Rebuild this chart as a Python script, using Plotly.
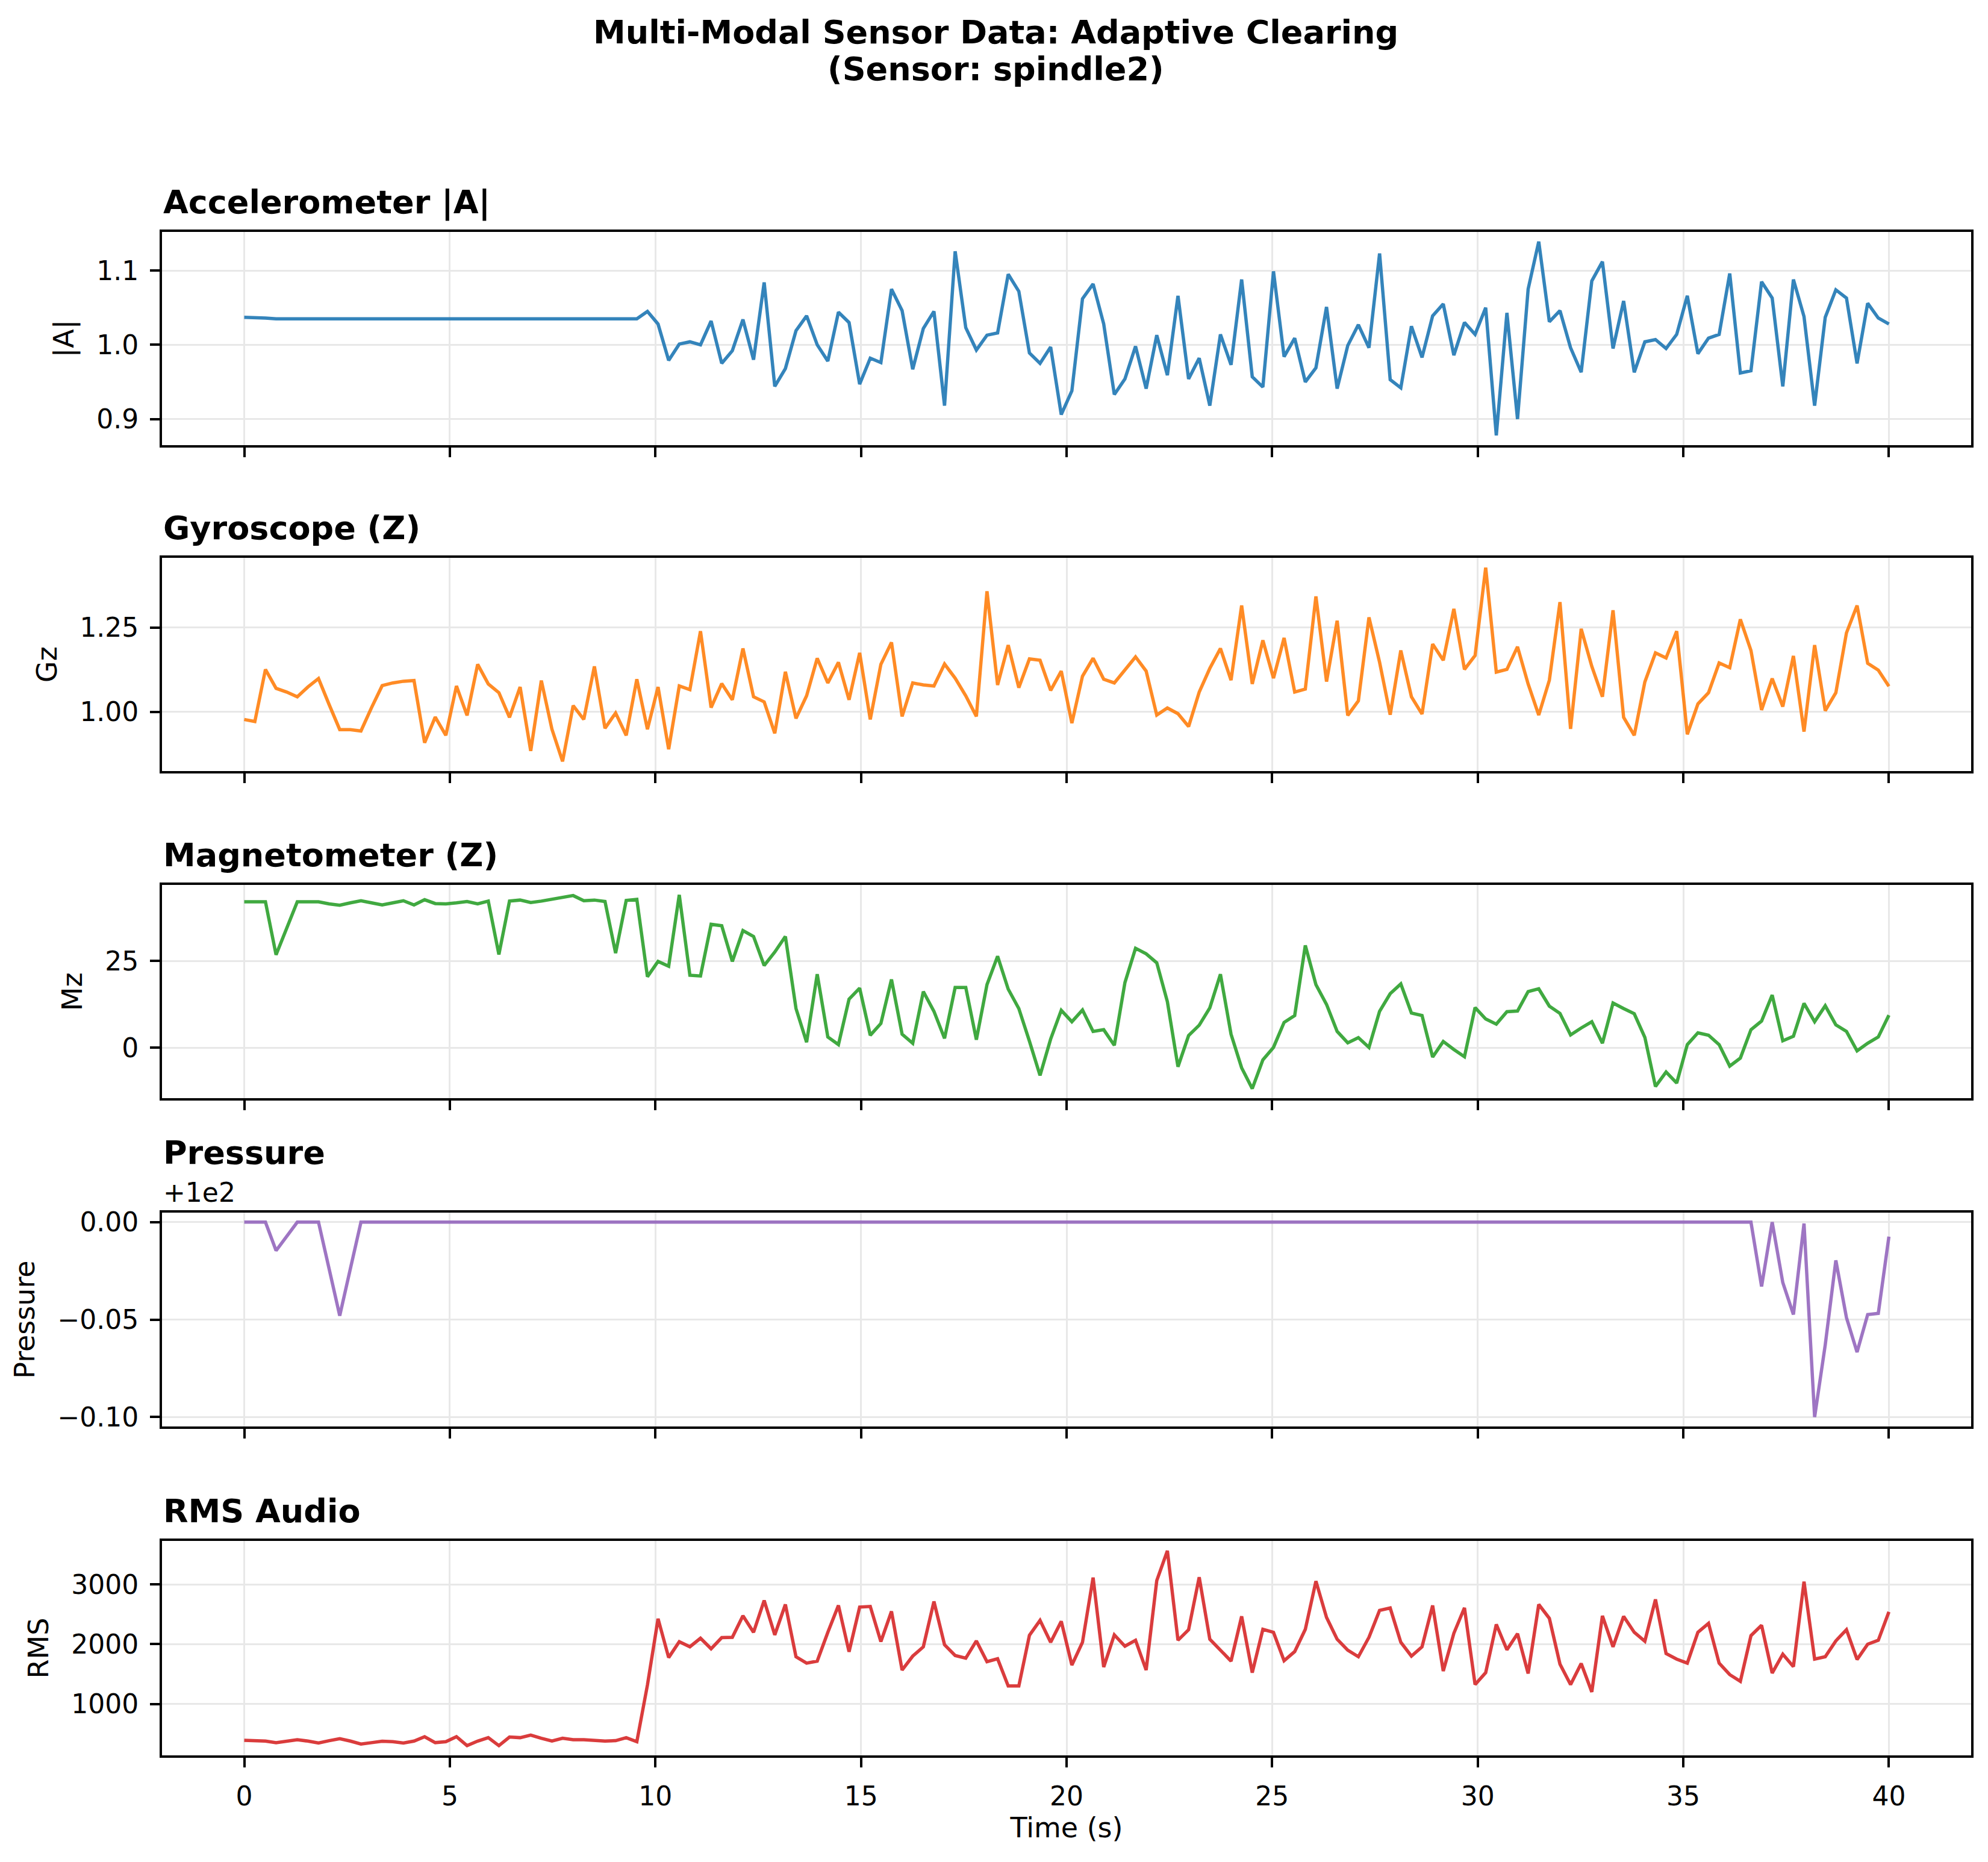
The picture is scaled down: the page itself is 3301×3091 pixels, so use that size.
import numpy as np
import plotly.graph_objects as go
from plotly.subplots import make_subplots

################################################################################
# Sensor readings (spindle2), 156 samples over 40 s
################################################################################

time_s = np.linspace(0, 40, 156)

accel_mag = [
    1.037, 1.037, 1.036, 1.035, 1.035, 1.036, 1.036, 1.036, 1.035, 1.035,
    1.035, 1.035, 1.035, 1.036, 1.036, 1.036, 1.036, 1.035, 1.036, 1.036,
    1.036, 1.036, 1.035, 1.036, 1.036, 1.035, 1.036, 1.036, 1.035, 1.036,
    1.036, 1.036, 1.035, 1.036, 1.036, 1.035, 1.035, 1.035, 1.045, 1.028,
    0.979, 1.001, 1.004, 1.000, 1.032, 0.975, 0.992, 1.034, 0.980, 1.084,
    0.944, 0.968, 1.019, 1.039, 1.000, 0.978, 1.044, 1.030, 0.947, 0.982,
    0.976, 1.075, 1.046, 0.967, 1.022, 1.045, 0.918, 1.126, 1.023, 0.993,
    1.013, 1.016, 1.095, 1.072, 0.989, 0.975, 0.997, 0.906, 0.938, 1.062,
    1.082, 1.028, 0.933, 0.954, 0.998, 0.941, 1.013, 0.959, 1.066, 0.954,
    0.982, 0.918, 1.014, 0.973, 1.088, 0.957, 0.943, 1.099, 0.984, 1.009,
    0.950, 0.969, 1.051, 0.941, 0.999, 1.027, 0.996, 1.123, 0.953, 0.942,
    1.025, 0.983, 1.039, 1.055, 0.986, 1.030, 1.014, 1.050, 0.878, 1.043,
    0.900, 1.075, 1.139, 1.031, 1.046, 0.996, 0.963, 1.086, 1.112, 0.995,
    1.059, 0.963, 1.004, 1.007, 0.995, 1.014, 1.066, 0.988, 1.009, 1.014,
    1.096, 0.962, 0.965, 1.085, 1.063, 0.944, 1.088, 1.038, 0.918, 1.037,
    1.074, 1.063, 0.975, 1.056, 1.036, 1.028,
]

gyro_z = [
    0.978, 0.972, 1.126, 1.070, 1.059, 1.045, 1.074, 1.099, 1.022, 0.948,
    0.948, 0.944, 1.013, 1.078, 1.086, 1.091, 1.093, 0.909, 0.985, 0.931,
    1.077, 0.990, 1.141, 1.083, 1.057, 0.984, 1.074, 0.885, 1.093, 0.949,
    0.854, 1.019, 0.978, 1.135, 0.952, 0.997, 0.931, 1.097, 0.949, 1.074,
    0.890, 1.077, 1.066, 1.239, 1.013, 1.084, 1.036, 1.188, 1.045, 1.030,
    0.937, 1.119, 0.981, 1.048, 1.159, 1.086, 1.147, 1.036, 1.175, 0.978,
    1.141, 1.206, 0.987, 1.086, 1.080, 1.077, 1.142, 1.100, 1.048, 0.987,
    1.357, 1.080, 1.198, 1.072, 1.157, 1.153, 1.064, 1.121, 0.967, 1.106,
    1.159, 1.097, 1.086, 1.124, 1.163, 1.121, 0.991, 1.012, 0.995, 0.957,
    1.059, 1.129, 1.188, 1.094, 1.315, 1.083, 1.212, 1.100, 1.219, 1.059,
    1.068, 1.342, 1.090, 1.270, 0.990, 1.033, 1.280, 1.147, 0.992, 1.182,
    1.045, 0.994, 1.201, 1.153, 1.305, 1.126, 1.167, 1.427, 1.118, 1.126,
    1.193, 1.083, 0.991, 1.094, 1.325, 0.950, 1.246, 1.135, 1.045, 1.301,
    0.984, 0.931, 1.089, 1.175, 1.160, 1.239, 0.934, 1.024, 1.057, 1.145,
    1.131, 1.274, 1.182, 1.006, 1.099, 1.016, 1.166, 0.942, 1.198, 1.004,
    1.057, 1.234, 1.315, 1.144, 1.124, 1.076,
]

mag_z = [
    42.1, 42.1, 42.1, 26.8, 34.5, 42.1, 42.1, 42.1, 41.5, 41.1,
    41.8, 42.4, 41.8, 41.2, 41.8, 42.4, 41.2, 42.7, 41.6, 41.5,
    41.8, 42.2, 41.5, 42.3, 26.9, 42.3, 42.6, 41.9, 42.3, 42.8,
    43.2, 43.9, 42.4, 42.6, 42.2, 27.3, 42.5, 42.8, 20.5, 24.9,
    23.5, 44.1, 20.9, 20.7, 35.6, 35.2, 24.9, 33.8, 32.1, 23.7,
    27.6, 32.1, 11.3, 1.6, 21.2, 3.1, 0.9, 14.0, 17.2, 3.6,
    7.0, 19.7, 3.9, 1.3, 16.2, 10.5, 2.7, 17.4, 17.4, 2.3,
    18.2, 26.4, 16.9, 11.3, 1.9, -8.0, 2.5, 10.8, 7.5, 10.9,
    4.7, 5.2, 0.7, 18.8, 28.7, 27.1, 24.5, 13.3, -5.5, 3.5,
    6.5, 11.5, 21.2, 3.9, -5.8, -11.8, -3.5, 0.1, 7.3, 9.3,
    29.5, 18.2, 12.5, 4.7, 1.4, 2.9, 0.1, 10.5, 15.6, 18.4,
    10.0, 9.3, -2.7, 1.8, -0.5, -2.6, 11.6, 8.3, 6.8, 10.4,
    10.6, 16.2, 17.0, 12.0, 9.9, 3.7, 5.7, 7.5, 1.3, 12.9,
    11.3, 9.8, 3.0, -11.2, -7.0, -10.2, 0.9, 4.3, 3.6, 0.9,
    -5.3, -3.0, 5.2, 7.7, 15.2, 2.0, 3.3, 12.8, 7.5, 12.1,
    6.6, 4.7, -0.9, 1.3, 3.1, 9.4,
]

pressure = [
    100.0, 100.0, 100.0, 99.9854, 99.9926, 100.0, 100.0, 100.0, 99.976, 99.952,
    99.976, 100.0, 100.0, 100.0, 100.0, 100.0, 100.0, 100.0, 100.0, 100.0,
    100.0, 100.0, 100.0, 100.0, 100.0, 100.0, 100.0, 100.0, 100.0, 100.0,
    100.0, 100.0, 100.0, 100.0, 100.0, 100.0, 100.0, 100.0, 100.0, 100.0,
    100.0, 100.0, 100.0, 100.0, 100.0, 100.0, 100.0, 100.0, 100.0, 100.0,
    100.0, 100.0, 100.0, 100.0, 100.0, 100.0, 100.0, 100.0, 100.0, 100.0,
    100.0, 100.0, 100.0, 100.0, 100.0, 100.0, 100.0, 100.0, 100.0, 100.0,
    100.0, 100.0, 100.0, 100.0, 100.0, 100.0, 100.0, 100.0, 100.0, 100.0,
    100.0, 100.0, 100.0, 100.0, 100.0, 100.0, 100.0, 100.0, 100.0, 100.0,
    100.0, 100.0, 100.0, 100.0, 100.0, 100.0, 100.0, 100.0, 100.0, 100.0,
    100.0, 100.0, 100.0, 100.0, 100.0, 100.0, 100.0, 100.0, 100.0, 100.0,
    100.0, 100.0, 100.0, 100.0, 100.0, 100.0, 100.0, 100.0, 100.0, 100.0,
    100.0, 100.0, 100.0, 100.0, 100.0, 100.0, 100.0, 100.0, 100.0, 100.0,
    100.0, 100.0, 100.0, 100.0, 100.0, 100.0, 100.0, 100.0, 100.0, 100.0,
    100.0, 100.0, 100.0, 99.967, 100.0, 99.969, 99.9526, 99.9993, 99.900, 99.937,
    99.9804, 99.951, 99.9333, 99.9526, 99.9532, 99.9926,
]

rms_audio = [
    395, 395, 382, 356, 382, 405, 382, 349, 389, 422,
    382, 332, 356, 379, 372, 349, 382, 455, 356, 372,
    455, 306, 382, 439, 306, 449, 439, 482, 429, 382,
    429, 405, 405, 389, 382, 389, 439, 372, 1319, 2425,
    1777, 2043, 1957, 2100, 1924, 2110, 2116, 2475, 2199, 2731,
    2156, 2664, 1791, 1684, 1718, 2199, 2648, 1874, 2621, 2631,
    2043, 2548, 1568, 1801, 1957, 2714, 1990, 1811, 1767, 2056,
    1708, 1757, 1302, 1302, 2149, 2399, 2033, 2382, 1651, 2033,
    3113, 1618, 2156, 1967, 2066, 1568, 3063, 3561, 2066, 2243,
    3120, 2083, 1900, 1718, 2465, 1525, 2249, 2199, 1724, 1877,
    2249, 3053, 2448, 2083, 1900, 1791, 2116, 2565, 2605, 2033,
    1801, 1957, 2648, 1552, 2183, 2608, 1326, 1525, 2332, 1907,
    2176, 1512, 2664, 2432, 1668, 1326, 1678, 1203, 2475, 1957,
    2465, 2199, 2050, 2748, 1844, 1751, 1684, 2199, 2349, 1684,
    1492, 1379, 2143, 2316, 1518, 1834, 1625, 3046, 1751, 1791,
    2056, 2243, 1744, 2000, 2066, 2541,
]

pressure_offset = 100.0

################################################################################
# Build figure
################################################################################

font_family = 'DejaVu Sans'

# title, y label, values, colour, tick step, tick format
panels = [
    ('Accelerometer |A|', '|A|', np.array(accel_mag), '#1f77b4', 0.1, '.1f'),
    ('Gyroscope (Z)', 'Gz', np.array(gyro_z), '#ff7f0e', 0.25, '.2f'),
    ('Magnetometer (Z)', 'Mz', np.array(mag_z), '#2ca02c', 25, 'd'),
    ('Pressure', 'Pressure', np.array(pressure) - pressure_offset, '#9467bd', 0.05, '.2f'),
    ('RMS Audio', 'RMS', np.array(rms_audio), '#d62728', 1000, 'd'),
]

# panel domains (top panel first)
domains = [[0.8601, 1.0], [0.6461, 0.786], [0.4313, 0.5712], [0.2157, 0.3564], [0.0, 0.1407]]

fig = make_subplots(rows=5, cols=1, shared_xaxes=True)

for i, (title, ylab, vals, color, dtick, fmt) in enumerate(panels):
    row = i + 1
    fig.add_trace(go.Scatter(x=time_s, y=vals, mode='lines',
                             line=dict(color=color, width=5.5),
                             opacity=0.9, showlegend=False),
                  row=row, col=1)

    # matplotlib style 5% autoscale margin
    lo, hi = vals.min(), vals.max()
    pad = (hi - lo) * 0.05
    fig.update_yaxes(range=[lo - pad, hi + pad], dtick=dtick, tickformat=fmt,
                     title=dict(text=ylab, standoff=24,
                                font=dict(size=46, family=font_family, color='black')),
                     domain=domains[i], row=row, col=1)

    # panel title, left aligned above the axes
    sfx = '' if row == 1 else str(row)
    fig.add_annotation(text='<b>' + title + '</b>', xref='x' + sfx + ' domain',
                       yref='y' + sfx + ' domain', x=0, y=1, xanchor='left',
                       yanchor='middle', yshift=99 if title == 'Pressure' else 50,
                       showarrow=False,
                       font=dict(size=54, family=font_family, color='black'))

# offset text of the pressure axis
fig.add_annotation(text='+1e2', xref='x4 domain', yref='y4 domain', x=0, y=1,
                   xanchor='left', yanchor='middle', yshift=33, showarrow=False,
                   font=dict(size=44, family=font_family, color='black'))

# figure title
fig.add_annotation(text='<b>Multi-Modal Sensor Data: Adaptive Clearing</b>',
                   xref='paper', yref='paper', x=0.461, y=1.131, xanchor='center',
                   yanchor='middle', showarrow=False,
                   font=dict(size=54, family=font_family, color='black'))
fig.add_annotation(text='<b>(Sensor: spindle2)</b>',
                   xref='paper', yref='paper', x=0.461, y=1.107, xanchor='center',
                   yanchor='middle', showarrow=False,
                   font=dict(size=54, family=font_family, color='black'))

axis_style = dict(showline=True, linecolor='black', linewidth=3.7, mirror=True,
                  ticks='outside', ticklen=16, tickwidth=3.7, tickcolor='black',
                  showgrid=True, gridcolor='#e8e8e8', gridwidth=3.2,
                  zeroline=False, ticklabelstandoff=10,
                  tickfont=dict(size=44, family=font_family, color='black'))

fig.update_xaxes(**axis_style, range=[-2, 42], dtick=5, tick0=0)
fig.update_yaxes(**axis_style)
fig.update_xaxes(title=dict(text='Time (s)', standoff=12,
                            font=dict(size=46, family=font_family, color='black')),
                 row=5, col=1)

fig.update_layout(width=3301, height=3091,
                  margin=dict(l=261, r=36, t=377, b=185),
                  plot_bgcolor='white', paper_bgcolor='white',
                  font=dict(family=font_family, color='black'))

fig.write_html('out.html')
